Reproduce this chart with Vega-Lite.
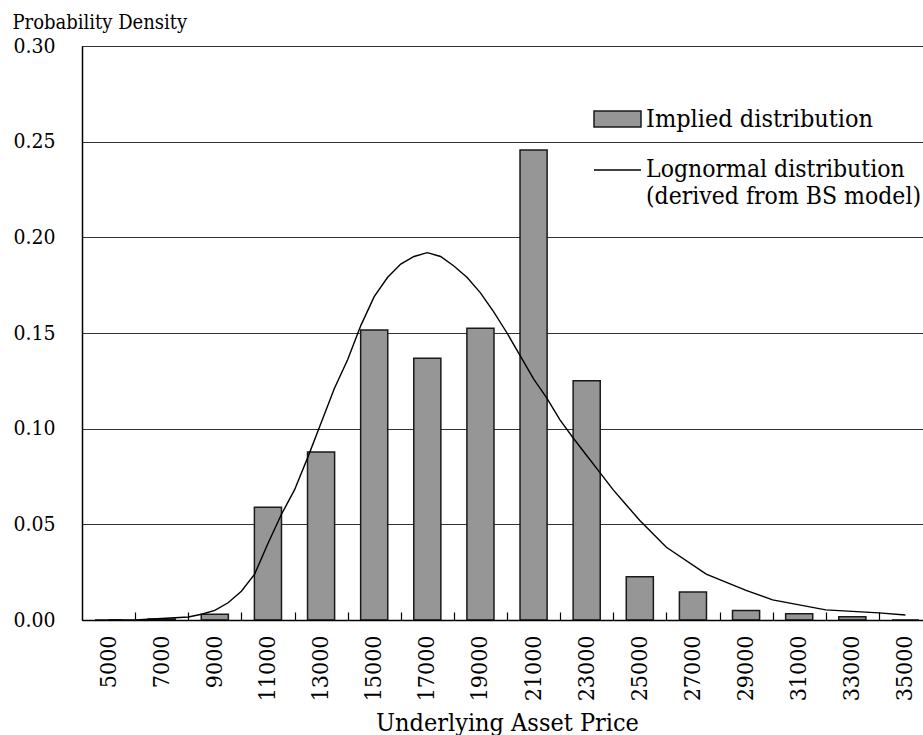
{
  "$schema": "https://vega.github.io/schema/vega-lite/v6.json",
  "width": 850,
  "height": 574,
  "autosize": {"type": "none"},
  "padding": {"left": 82, "top": 46, "right": -9, "bottom": 115},
  "background": "#ffffff",
  "config": {
    "font": "DejaVu Serif Condensed, Liberation Serif",
    "view": {"stroke": "#000000", "strokeWidth": 1},
    "axis": {"labelColor": "#000000", "titleColor": "#000000", "domainColor": "#000000", "tickColor": "#000000", "titleFontWeight": "normal"},
    "legend": {"labelColor": "#000000", "padding": 0, "offset": 0, "labelLimit": 0, "title": null}
  },
  "layer": [
    {
      "data": {"values": [
        {"price": 5000, "density": 0, "series": "Implied distribution"},
        {"price": 7000, "density": 0.0005, "series": "Implied distribution"},
        {"price": 9000, "density": 0.003, "series": "Implied distribution"},
        {"price": 11000, "density": 0.0589, "series": "Implied distribution"},
        {"price": 13000, "density": 0.0878, "series": "Implied distribution"},
        {"price": 15000, "density": 0.1516, "series": "Implied distribution"},
        {"price": 17000, "density": 0.1368, "series": "Implied distribution"},
        {"price": 19000, "density": 0.1525, "series": "Implied distribution"},
        {"price": 21000, "density": 0.2457, "series": "Implied distribution"},
        {"price": 23000, "density": 0.1251, "series": "Implied distribution"},
        {"price": 25000, "density": 0.0226, "series": "Implied distribution"},
        {"price": 27000, "density": 0.0146, "series": "Implied distribution"},
        {"price": 29000, "density": 0.0049, "series": "Implied distribution"},
        {"price": 31000, "density": 0.0033, "series": "Implied distribution"},
        {"price": 33000, "density": 0.0017, "series": "Implied distribution"},
        {"price": 35000, "density": 0, "series": "Implied distribution"}
      ]},
      "mark": {"type": "bar", "stroke": "#1a1a1a", "strokeWidth": 1.5},
      "encoding": {
        "x": {
          "field": "price", "type": "ordinal",
          "scale": {"paddingInner": 0.49, "paddingOuter": 0.245},
          "axis": {
            "orient": "bottom",
            "title": "Underlying Asset Price", "titleFontSize": 25, "titleY": 110, "titleBaseline": "alphabetic",
            "labelAngle": -90, "labelAlign": "right", "labelBaseline": "middle", "labelFontSize": 23, "labelPadding": 15,
            "ticks": false, "tickSize": 0, "grid": false, "domainWidth": 1.5, "zindex": 1
          }
        },
        "y": {
          "field": "density", "type": "quantitative",
          "scale": {"domain": [0, 0.3], "nice": false},
          "axis": {
            "title": "Probability Density", "titleAngle": 0, "titleAlign": "left", "titleBaseline": "alphabetic",
            "titleX": -70, "titleY": -18, "titleFontSize": 20,
            "values": [0, 0.05, 0.1, 0.15, 0.2, 0.25, 0.3], "format": ".2f",
            "labelFontSize": 21, "labelPadding": 27, "ticks": false, "tickSize": 0,
            "grid": true, "gridColor": "#333333", "gridWidth": 1, "domainWidth": 1.5
          }
        },
        "fill": {
          "field": "series", "type": "nominal",
          "scale": {"range": ["#969696"]},
          "legend": {
            "orient": "none", "legendX": 511, "legendY": 48.5,
            "symbolType": "M-1,-0.34H1V0.34H-1Z", "symbolSize": 2209,
            "symbolStrokeColor": "#1a1a1a", "symbolStrokeWidth": 1.5, "symbolFillColor": "#969696",
            "labelFontSize": 25, "labelOffset": 4
          }
        }
      }
    },
    {
      "data": {"values": [
        {"price": 5000, "density": 0, "series": "Lognormal distribution"},
        {"price": 6000, "density": 0, "series": "Lognormal distribution"},
        {"price": 7000, "density": 0.0008, "series": "Lognormal distribution"},
        {"price": 8000, "density": 0.0016, "series": "Lognormal distribution"},
        {"price": 8500, "density": 0.003, "series": "Lognormal distribution"},
        {"price": 9000, "density": 0.005, "series": "Lognormal distribution"},
        {"price": 9500, "density": 0.009, "series": "Lognormal distribution"},
        {"price": 10000, "density": 0.015, "series": "Lognormal distribution"},
        {"price": 10500, "density": 0.024, "series": "Lognormal distribution"},
        {"price": 11000, "density": 0.04, "series": "Lognormal distribution"},
        {"price": 11500, "density": 0.055, "series": "Lognormal distribution"},
        {"price": 12000, "density": 0.068, "series": "Lognormal distribution"},
        {"price": 12500, "density": 0.085, "series": "Lognormal distribution"},
        {"price": 13000, "density": 0.103, "series": "Lognormal distribution"},
        {"price": 13500, "density": 0.121, "series": "Lognormal distribution"},
        {"price": 14000, "density": 0.136, "series": "Lognormal distribution"},
        {"price": 14500, "density": 0.154, "series": "Lognormal distribution"},
        {"price": 15000, "density": 0.169, "series": "Lognormal distribution"},
        {"price": 15500, "density": 0.179, "series": "Lognormal distribution"},
        {"price": 16000, "density": 0.186, "series": "Lognormal distribution"},
        {"price": 16500, "density": 0.19, "series": "Lognormal distribution"},
        {"price": 17000, "density": 0.192, "series": "Lognormal distribution"},
        {"price": 17500, "density": 0.19, "series": "Lognormal distribution"},
        {"price": 18000, "density": 0.185, "series": "Lognormal distribution"},
        {"price": 18500, "density": 0.179, "series": "Lognormal distribution"},
        {"price": 19000, "density": 0.171, "series": "Lognormal distribution"},
        {"price": 19500, "density": 0.161, "series": "Lognormal distribution"},
        {"price": 20000, "density": 0.15, "series": "Lognormal distribution"},
        {"price": 20500, "density": 0.138, "series": "Lognormal distribution"},
        {"price": 21000, "density": 0.126, "series": "Lognormal distribution"},
        {"price": 21500, "density": 0.116, "series": "Lognormal distribution"},
        {"price": 22000, "density": 0.1045, "series": "Lognormal distribution"},
        {"price": 22500, "density": 0.095, "series": "Lognormal distribution"},
        {"price": 23000, "density": 0.086, "series": "Lognormal distribution"},
        {"price": 23500, "density": 0.077, "series": "Lognormal distribution"},
        {"price": 24000, "density": 0.068, "series": "Lognormal distribution"},
        {"price": 24500, "density": 0.06, "series": "Lognormal distribution"},
        {"price": 25000, "density": 0.052, "series": "Lognormal distribution"},
        {"price": 26000, "density": 0.038, "series": "Lognormal distribution"},
        {"price": 27500, "density": 0.024, "series": "Lognormal distribution"},
        {"price": 29000, "density": 0.0155, "series": "Lognormal distribution"},
        {"price": 30000, "density": 0.0105, "series": "Lognormal distribution"},
        {"price": 32000, "density": 0.0053, "series": "Lognormal distribution"},
        {"price": 34000, "density": 0.0037, "series": "Lognormal distribution"},
        {"price": 35000, "density": 0.0026, "series": "Lognormal distribution"}
      ]},
      "mark": {"type": "line", "strokeWidth": 1.4},
      "encoding": {
        "x": {
          "field": "price", "type": "quantitative",
          "scale": {"domain": [4000, 36000], "nice": false, "zero": false},
          "axis": {
            "orient": "bottom", "offset": -8, "title": null, "labels": false, "domain": false, "grid": false,
            "values": [6000, 8000, 10000, 12000, 14000, 16000, 18000, 20000, 22000, 24000, 26000, 28000, 30000, 32000, 34000],
            "ticks": true, "tickSize": 8, "tickWidth": 1.2, "tickColor": "#000000", "zindex": 1
          }
        },
        "y": {"field": "density", "type": "quantitative"},
        "stroke": {
          "field": "series", "type": "nominal",
          "scale": {"range": ["#000000"]},
          "legend": {
            "orient": "none", "legendX": 511, "legendY": 99.5,
            "symbolType": "stroke", "symbolSize": 2209, "symbolStrokeWidth": 1.4, "symbolStrokeColor": "#000000",
            "labelFontSize": 24.5, "labelOffset": 4, "labelBaseline": "middle", "labelLineHeight": 25,
            "labelExpr": "['Lognormal distribution', '(derived from BS model)']"
          }
        }
      }
    }
  ],
  "resolve": {"scale": {"x": "independent"}}
}
